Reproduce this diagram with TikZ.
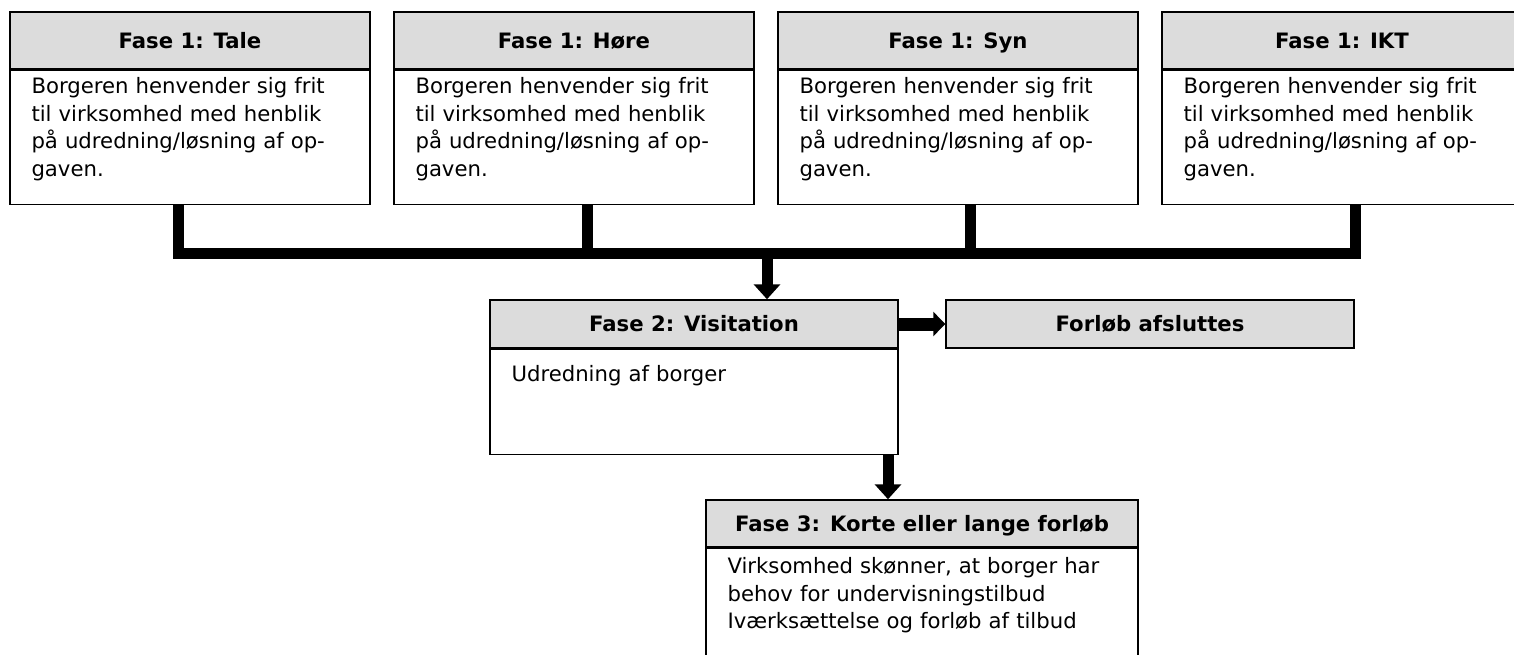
\documentclass[tikz,border=0pt]{standalone}
\usepackage{fontspec}
\setmainfont{DejaVu Sans}
\usetikzlibrary{arrows.meta,calc}
\definecolor{hdrgray}{RGB}{220,220,220}
\tikzset{
  boxsize/.style 2 args={minimum width=#1*0.75pt, minimum height=#2*0.75pt},
  hdr/.style={draw=black, line width=1.1pt, fill=hdrgray, inner sep=0pt,
    font=\bfseries\fontsize{15.9}{20.7}\selectfont, text height=11.6pt, text depth=0pt},
  bodybox/.style={draw=black, line width=1.1pt, fill=white, inner sep=0pt},
  bodytxt/.style={anchor=base west, inner sep=0pt, align=left,
    font=\fontsize{15.9}{20.7}\selectfont},
  conn/.style={draw=black, line width=8.25pt, line join=miter},
  connwide/.style={draw=black, line width=9.75pt, line join=miter},
  downtip/.style={-{Triangle[width=19.5pt,length=11.25pt]}},
  righttip/.style={-{Triangle[width=18pt,length=9pt]}}
}
\begin{document}
\begin{tikzpicture}[x=0.75pt, y=-0.75pt]
\useasboundingbox (0,0) rectangle (1514,654);
\clip (0,0) rectangle (1514,654);
\fill[white] (0,0) rectangle (1514,654);

% Phase 1: four parallel entry boxes
\foreach \n/\x/\t in {1/190/Tale, 2/574/Høre, 3/958/Syn, 4/1342/IKT}{
  \node[hdr, boxsize={360}{57}] (h\n) at (\x,40.5) {Fase 1: \t};
  \node[bodybox, boxsize={360}{134}, anchor=north] (b\n) at (h\n.south) {};
  \node[bodytxt, text width=340*0.75pt] (t\n) at ($(b\n.north west)+(22,24)$)
    {Borgeren henvender sig frit\\til virksomhed med henblik\\på udredning/løsning af op-\\gaven.};
}

% Phase 2 and the closing box
\node[hdr, boxsize={408}{48}] (f2h) at (694,324) {Fase 2: Visitation};
\node[bodybox, boxsize={408}{105}, anchor=north] (f2b) at (f2h.south) {};
\node[bodytxt, text width=380*0.75pt] (f2t) at ($(f2b.north west)+(22,33)$) {Udredning af borger};
\node[hdr, boxsize={408}{48}] (done) at (1150,324) {Forløb afsluttes};

% Phase 3
\node[hdr, boxsize={432}{47}] (f3h) at (922,523.5) {Fase 3: Korte eller lange forløb};
\node[bodybox, boxsize={432}{120}, anchor=north] (f3b) at (f3h.south) {};
\node[bodytxt, text width=420*0.75pt] (f3t) at ($(f3b.north west)+(22,26)$)
  {Virksomhed skønner, at borger har\\behov for undervisningstilbud\\Iværksættelse og forløb af tilbud};

% Collecting bar below the phase 1 boxes
\coordinate (barL) at ($(b1.south)+(-12,48)$);
\coordinate (barR) at ($(b4.south)+(13,48)$);
\draw[conn] (b1.south -| barL) -- (barL) -- (barR) -- (b4.south -| barR);
\draw[conn] ($(b2.south)+(13,0)$) -- ++(0,48);
\draw[conn] ($(b3.south)+(12,0)$) -- ++(0,48);

% Arrows between the phases
\coordinate (a1) at ($(f2h.north)+(73,0)$);
\draw[conn, downtip] (barL -| a1) -- (a1);
\draw[connwide, righttip] (f2h.east) -- (done.west);
\coordinate (a2) at ($(f2b.south)+(194,0)$);
\draw[conn, downtip] (a2) -- (a2 |- f3h.north);
\end{tikzpicture}
\end{document}
